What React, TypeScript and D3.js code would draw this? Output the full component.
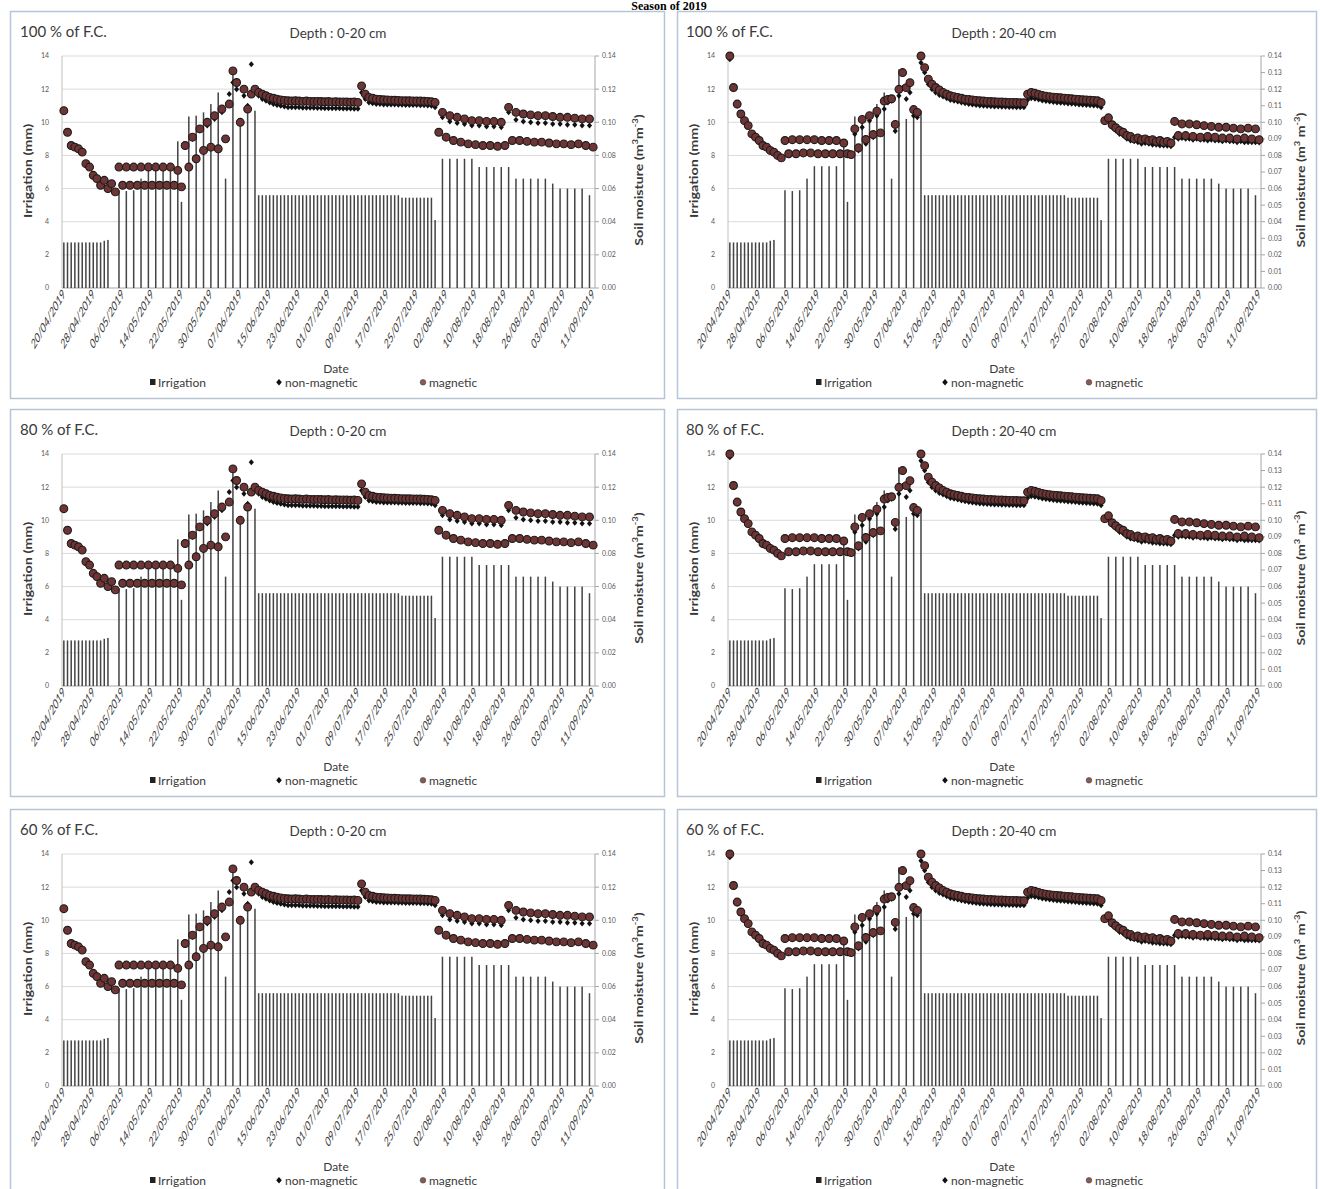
import React from 'react';
import * as d3 from 'd3';

const _ = null;

const seasonTitle = 'Season of 2019';
const fcLabels = ['100 % of F.C.', '80 % of F.C.', '60 % of F.C.'];
const depthLabels = ['Depth : 0-20 cm', 'Depth : 20-40 cm'];
const firstDay = '20/04/2019';

// x tick labels (every 8 days)
const dateTicks = [
  '20/04/2019', '28/04/2019', '06/05/2019', '14/05/2019', '22/05/2019',
  '30/05/2019', '07/06/2019', '15/06/2019', '23/06/2019', '01/07/2019',
  '09/07/2019', '17/07/2019', '25/07/2019', '02/08/2019', '10/08/2019',
  '18/08/2019', '26/08/2019', '03/09/2019', '11/09/2019',
];

const irrigationTicks = [0, 2, 4, 6, 8, 10, 12, 14];
const moistureTicks0to20 = [0, 0.02, 0.04, 0.06, 0.08, 0.1, 0.12, 0.14];
const moistureTicks20to40 = [0, 0.01, 0.02, 0.03, 0.04, 0.05, 0.06, 0.07, 0.08, 0.09, 0.1, 0.11, 0.12, 0.13, 0.14];

// irrigation (mm), one entry per day from 20/04/2019
const irrigationMm = [
  2.75, 2.75, 2.75, 2.75, 2.75, 2.75, 2.75, 2.75, 2.75, 2.75,
  2.75, 2.85, 2.9, _, _, 5.9, _, 5.85, _, 5.9,
  _, 6.6, _, 7.35, _, 7.35, _, 7.35, _, 7.35,
  _, 8.85, 5.2, _, 10.35, _, 10.4, _, 10.6, _,
  11.1, _, 11.8, _, 6.6, _, 13.2, _, 10.2, _,
  10.6, _, 10.7, 5.6, 5.6, 5.6, 5.6, 5.6, 5.6, 5.6,
  5.6, 5.6, 5.6, 5.6, 5.6, 5.6, 5.6, 5.6, 5.6, 5.6,
  5.6, 5.6, 5.6, 5.6, 5.6, 5.6, 5.6, 5.6, 5.6, 5.6,
  5.6, 5.6, 5.6, 5.6, 5.6, 5.6, 5.6, 5.6, 5.6, 5.6,
  5.6, 5.6, 5.45, 5.45, 5.45, 5.45, 5.45, 5.45, 5.45, 5.45,
  5.45, 4.1, _, 7.8, _, 7.8, _, 7.8, _, 7.8,
  _, 7.8, _, 7.3, _, 7.3, _, 7.3, _, 7.3,
  _, 7.3, _, 6.6, _, 6.6, _, 6.6, _, 6.6,
  _, 6.6, _, 6.3, _, 6.0, _, 6.0, _, 6.0,
  _, 6.0, _, 5.6, _,
];

// soil moisture (m3 m-3), depth 0-20 cm
const magnetic0to20 = [
  0.107, 0.094, 0.086, 0.085, 0.084, 0.082, 0.075, 0.073, 0.068, 0.066,
  0.062, 0.065, 0.060, 0.063, 0.058, 0.073, 0.062, 0.073, 0.062, 0.073,
  0.062, 0.073, 0.062, 0.073, 0.062, 0.073, 0.062, 0.073, 0.062, 0.073,
  0.062, 0.071, 0.061, 0.086, 0.073, 0.091, 0.078, 0.096, 0.083, 0.100,
  0.085, 0.104, 0.084, 0.108, 0.090, 0.111, 0.131, 0.124, 0.100, 0.120,
  0.108, 0.117, 0.120, 0.118, 0.117, 0.116, 0.115, 0.1145, 0.114, 0.1135,
  0.1132, 0.113, 0.1128, 0.113, 0.1128, 0.1126, 0.1128, 0.1126, 0.1125, 0.1126,
  0.1125, 0.1124, 0.1125, 0.1123, 0.1124, 0.1122, 0.1123, 0.1122, 0.1121, 0.1122,
  0.112, 0.122, 0.117, 0.115, 0.1145, 0.114, 0.1138, 0.1136, 0.1135, 0.1134,
  0.1133, 0.1132, 0.1131, 0.113, 0.113, 0.1129, 0.1128, 0.1128, 0.1127, 0.1126,
  0.1124, 0.112, 0.094, 0.106, 0.091, 0.104, 0.089, 0.103, 0.088, 0.102,
  0.087, 0.101, 0.0865, 0.101, 0.086, 0.1005, 0.086, 0.1005, 0.0855, 0.100,
  0.086, 0.109, 0.089, 0.106, 0.089, 0.105, 0.0885, 0.1045, 0.088, 0.104,
  0.088, 0.104, 0.0875, 0.1035, 0.087, 0.103, 0.087, 0.103, 0.0865, 0.1025,
  0.087, 0.102, 0.086, 0.102, 0.085,
];
const nonMagnetic0to20 = [
  0.107, 0.094, 0.086, 0.085, 0.084, 0.082, 0.075, 0.073, 0.068, 0.066,
  0.062, 0.064, 0.060, 0.062, 0.058, 0.073, 0.062, 0.073, 0.062, 0.073,
  0.062, 0.073, 0.062, 0.073, 0.062, 0.073, 0.062, 0.073, 0.062, 0.073,
  0.062, 0.071, 0.061, 0.086, 0.073, 0.090, 0.078, 0.095, 0.082, 0.098,
  0.084, 0.102, 0.084, 0.106, 0.090, 0.117, 0.124, 0.120, 0.101, 0.116,
  0.110, 0.135, 0.119, 0.116, 0.114, 0.113, 0.112, 0.111, 0.1105, 0.110,
  0.1095, 0.109, 0.109, 0.109, 0.109, 0.1088, 0.1088, 0.1087, 0.1087, 0.1086,
  0.1086, 0.1085, 0.1085, 0.1085, 0.1084, 0.1084, 0.1083, 0.1083, 0.1083, 0.1082,
  0.1082, 0.118, 0.114, 0.112, 0.1115, 0.111, 0.111, 0.1108, 0.1108, 0.1107,
  0.1107, 0.1106, 0.1106, 0.1105, 0.1105, 0.1104, 0.1104, 0.1103, 0.1103, 0.1102,
  0.110, 0.109, 0.094, 0.103, 0.091, 0.1005, 0.089, 0.0995, 0.088, 0.099,
  0.087, 0.098, 0.0865, 0.098, 0.086, 0.0975, 0.086, 0.0975, 0.0855, 0.097,
  0.086, 0.106, 0.089, 0.1015, 0.089, 0.1005, 0.0885, 0.100, 0.088, 0.0995,
  0.088, 0.0995, 0.0875, 0.099, 0.087, 0.099, 0.087, 0.0985, 0.0865, 0.0985,
  0.087, 0.098, 0.086, 0.098, 0.085,
];

// soil moisture (m3 m-3), depth 20-40 cm
const magnetic20to40 = [
  0.140, 0.121, 0.111, 0.105, 0.101, 0.098, 0.093, 0.091, 0.089, 0.086,
  0.085, 0.083, 0.082, 0.080, 0.0785, 0.089, 0.081, 0.0895, 0.081, 0.0895,
  0.0815, 0.0895, 0.0815, 0.0895, 0.081, 0.089, 0.081, 0.089, 0.081, 0.089,
  0.081, 0.0875, 0.081, 0.0805, 0.096, 0.0846, 0.1017, 0.0896, 0.104, 0.0926,
  0.1067, 0.0936, 0.1128, 0.1138, 0.1142, 0.0987, 0.1199, 0.130, 0.1209, 0.1239,
  0.1077, 0.106, 0.140, 0.133, 0.126, 0.123, 0.121, 0.1195, 0.118, 0.117,
  0.116, 0.1155, 0.115, 0.1145, 0.114, 0.1138, 0.1135, 0.1132, 0.113, 0.1128,
  0.1126, 0.1125, 0.1124, 0.1123, 0.1122, 0.1121, 0.112, 0.112, 0.1119, 0.1118,
  0.1118, 0.117, 0.118, 0.1175, 0.1168, 0.1162, 0.1158, 0.1155, 0.1152, 0.115,
  0.1148, 0.1146, 0.1144, 0.1142, 0.114, 0.1138, 0.1136, 0.1135, 0.1133, 0.1132,
  0.113, 0.112, 0.101, 0.1027, 0.0985, 0.0967, 0.095, 0.094, 0.092, 0.0915,
  0.090, 0.0905, 0.0895, 0.090, 0.089, 0.0895, 0.0885, 0.089, 0.088, 0.0885,
  0.0875, 0.1005, 0.092, 0.099, 0.092, 0.099, 0.0915, 0.0985, 0.091, 0.098,
  0.0915, 0.0975, 0.091, 0.097, 0.0905, 0.097, 0.0905, 0.0965, 0.090, 0.096,
  0.0905, 0.0965, 0.090, 0.096, 0.0895,
];
const nonMagnetic20to40 = [
  0.138, 0.120, 0.110, 0.104, 0.100, 0.097, 0.092, 0.090, 0.088, 0.085,
  0.084, 0.083, 0.081, 0.080, 0.078, 0.089, 0.081, 0.089, 0.081, 0.089,
  0.081, 0.089, 0.081, 0.089, 0.081, 0.089, 0.081, 0.089, 0.081, 0.089,
  0.081, 0.0875, 0.081, 0.0805, 0.093, 0.083, 0.097, 0.087, 0.101, 0.091,
  0.104, 0.093, 0.108, 0.112, 0.113, 0.0947, 0.116, 0.1209, 0.114, 0.118,
  0.104, 0.103, 0.136, 0.130, 0.123, 0.120, 0.118, 0.1165, 0.1155, 0.1145,
  0.1135, 0.113, 0.1125, 0.112, 0.1115, 0.111, 0.1108, 0.1105, 0.1102, 0.110,
  0.1098, 0.1097, 0.1096, 0.1095, 0.1094, 0.1093, 0.1092, 0.1092, 0.1091, 0.109,
  0.109, 0.1135, 0.1145, 0.1142, 0.1138, 0.1132, 0.1128, 0.1125, 0.1122, 0.112,
  0.1118, 0.1116, 0.1114, 0.1112, 0.111, 0.1108, 0.1106, 0.1105, 0.1103, 0.1102,
  0.110, 0.109, 0.100, 0.101, 0.097, 0.095, 0.093, 0.092, 0.090, 0.089,
  0.0885, 0.088, 0.087, 0.0875, 0.087, 0.0865, 0.0865, 0.086, 0.086, 0.0858,
  0.0855, 0.091, 0.090, 0.0905, 0.090, 0.090, 0.0895, 0.090, 0.0895, 0.0895,
  0.089, 0.0895, 0.089, 0.089, 0.0885, 0.089, 0.0885, 0.0885, 0.088, 0.0885,
  0.088, 0.088, 0.088, 0.088, 0.0878,
];

const FONT = "Lato, 'Noto Sans', sans-serif";
const parseDate = d3.timeParse('%d/%m/%Y');
const start = parseDate(firstDay) as Date;
const dayDate = (i: number) => d3.timeDay.offset(start, i);

type PanelProps = {
  col: number;
  ox: number;
  oy: number;
  fc: string;
  depth: string;
  mag: number[];
  non: number[];
  rightTicks: number[];
};

function Panel({ col, ox, oy, fc, depth, mag, non, rightTicks }: PanelProps) {
  const left = ox + 62;
  const right = ox + 595;
  const top = oy + 56;
  const bottom = oy + 288;
  const lastDay = dayDate(irrigationMm.length - 1);

  const x = d3.scaleTime()
    .domain([d3.timeHour.offset(start, -12), d3.timeHour.offset(lastDay, 12)])
    .range([left, right]);
  const yL = d3.scaleLinear().domain([0, 14]).range([bottom, top]);
  const yR = d3.scaleLinear().domain([0, 0.14]).range([bottom, top]);
  const fmtR = d3.format('.2f');

  const borderX = col === 0 ? 10.5 : 677.5;
  const borderW = col === 0 ? 654 : 639;
  const soilX = ox + (col === 0 ? 643 : 639);

  return (
    <g fontFamily={FONT}>
      <rect x={borderX} y={oy + 11.5} width={borderW} height={387}
        fill="#fff" stroke="#b7c6d6" strokeWidth={1.5} />

      <text x={ox + 20} y={oy + 37} fontSize={15} fill="#3a3a3a">{fc}</text>
      <text x={ox + 338} y={oy + 38} fontSize={13.5} fill="#3a3a3a" textAnchor="middle">{depth}</text>

      {/* grid */}
      {irrigationTicks.filter(t => t > 0).map(t => (
        <line key={'g' + t} x1={left} x2={right} y1={yL(t)} y2={yL(t)} stroke="#dadada" strokeWidth={1} />
      ))}
      <line x1={left} x2={left} y1={top} y2={bottom} stroke="#bfbfbf" />
      <line x1={right} x2={right} y1={top} y2={bottom} stroke="#a6a6a6" />
      <line x1={left} x2={right} y1={bottom} y2={bottom} stroke="#a6a6a6" />

      {/* left axis */}
      {irrigationTicks.map(t => (
        <text key={'l' + t} x={left - 13} y={yL(t)} dy="0.35em" fontSize={7} fill="#595959" textAnchor="end">{t}</text>
      ))}
      {/* right axis */}
      {rightTicks.map(t => (
        <g key={'r' + t}>
          <line x1={right} x2={right + 4} y1={yR(t)} y2={yR(t)} stroke="#a6a6a6" />
          <text x={right + 7} y={yR(t)} dy="0.35em" fontSize={7} fill="#595959">{fmtR(t)}</text>
        </g>
      ))}

      {/* irrigation bars */}
      {irrigationMm.map((v, i) => v == null ? null : (
        <rect key={'b' + i} x={x(dayDate(i)) - 0.75} width={1.5} y={yL(v)} height={bottom - yL(v)} fill="#444" />
      ))}

      {/* non-magnetic */}
      {non.map((v, i) => {
        const cx = x(dayDate(i));
        const cy = yR(v);
        return <path key={'n' + i} d={`M${cx},${cy - 3}L${cx + 2.6},${cy}L${cx},${cy + 3}L${cx - 2.6},${cy}Z`} fill="#111" />;
      })}
      {/* magnetic */}
      {mag.map((v, i) => (
        <circle key={'m' + i} cx={x(dayDate(i))} cy={yR(v)} r={3.9} fill="#6f3434" stroke="#1c1c1c" strokeWidth={1.1} />
      ))}

      {/* x tick labels */}
      {dateTicks.map(s => {
        const px = x(parseDate(s) as Date);
        return (
          <text key={s} transform={`translate(${px + 2},${oy + 295}) scale(1,1.75) rotate(-45)`}
            textAnchor="end" fontSize={8} fill="#3a3a3a">{s}</text>
        );
      })}

      {/* axis titles */}
      <text transform={`translate(${ox + 32},${oy + 171}) rotate(-90) scale(1.2,1)`} textAnchor="middle"
        fontSize={12} fontWeight="bold" fill="#3a3a3a">Irrigation (mm)</text>
      <text transform={`translate(${soilX},${oy + 180}) rotate(-90) scale(1.18,1)`} textAnchor="middle"
        fontSize={12} fontWeight="bold" fill="#3a3a3a">
        Soil moisture (m<tspan baselineShift="super" fontSize={8}>3</tspan>{col === 0 ? '' : ' '}m<tspan baselineShift="super" fontSize={8}>-3</tspan>)
      </text>
      <text x={ox + 336} y={oy + 373} textAnchor="middle" fontSize={12} fill="#3a3a3a">Date</text>

      {/* legend */}
      <rect x={ox + 150} y={oy + 379} width={5.5} height={6} fill="#222" />
      <text x={ox + 158} y={oy + 386.5} fontSize={12} fill="#3a3a3a">Irrigation</text>
      <path d={`M${ox + 279},${oy + 379}L${ox + 281.8},${oy + 382.3}L${ox + 279},${oy + 385.6}L${ox + 276.2},${oy + 382.3}Z`} fill="#111" />
      <text x={ox + 285} y={oy + 386.5} fontSize={12} fill="#3a3a3a">non-magnetic</text>
      <circle cx={ox + 423} cy={oy + 382.3} r={2.8} fill="#8a5a5a" stroke="#444" strokeWidth={0.6} />
      <text x={ox + 429} y={oy + 386.5} fontSize={12} fill="#3a3a3a">magnetic</text>
    </g>
  );
}

export default function App() {
  const colX = [0, 666];
  const rowY = [0, 398, 798];
  const depthData = [
    { mag: magnetic0to20, non: nonMagnetic0to20, ticks: moistureTicks0to20 },
    { mag: magnetic20to40, non: nonMagnetic20to40, ticks: moistureTicks20to40 },
  ];
  return (
    <svg width={1320} height={1189} style={{ position: 'absolute', left: 0, top: 0, background: '#fff' }}>
      <rect width={1320} height={1189} fill="#fff" />
      {rowY.map((oy, r) => colX.map((ox, c) => (
        <Panel key={r + '-' + c} col={c} ox={ox} oy={oy} fc={fcLabels[r]} depth={depthLabels[c]}
          mag={depthData[c].mag} non={depthData[c].non} rightTicks={depthData[c].ticks} />
      )))}
      <text x={669} y={9.5} textAnchor="middle" fontFamily="'Liberation Serif', serif" fontWeight="bold" fontSize={12}>{seasonTitle}</text>
    </svg>
  );
}
